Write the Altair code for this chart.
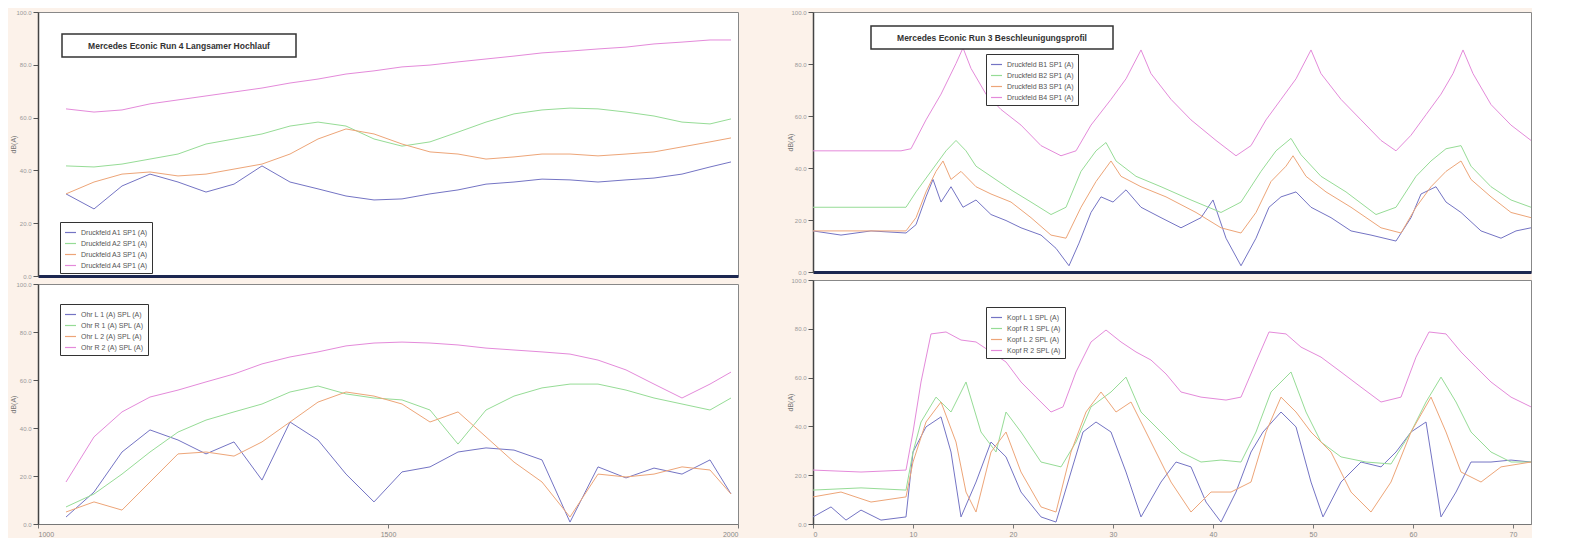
import altair as alt
import pandas as pd

# ---------------- data ----------------
RPM = [1040, 1080, 1120, 1160, 1200, 1240, 1280, 1320, 1360, 1400, 1440, 1480, 1520,
       1560, 1600, 1640, 1680, 1720, 1760, 1800, 1840, 1880, 1920, 1960, 1990]

LT_PINK = [63.3, 62.1, 62.9, 65.2, 66.7, 68.2, 69.7, 71.2, 73.1, 74.6, 76.5, 77.7, 79.2,
           79.9, 81.1, 82.2, 83.3, 84.5, 85.2, 86.0, 86.7, 87.9, 88.6, 89.4, 89.4]
LT_GREEN = [41.7, 41.3, 42.4, 44.3, 46.2, 50.0, 51.9, 53.8, 56.8, 58.3, 56.8, 51.9, 49.2,
            50.8, 54.5, 58.3, 61.4, 62.9, 63.6, 63.3, 62.1, 60.6, 58.3, 57.6, 59.5]
LT_ORANGE = [31.1, 35.6, 38.6, 39.4, 37.9, 38.6, 40.5, 42.4, 46.2, 51.9, 55.7, 53.8, 50.0,
             47.0, 46.2, 44.3, 45.1, 46.2, 46.2, 45.5, 46.2, 47.0, 48.9, 50.8, 52.3]
LT_BLUE = [31.1, 25.4, 34.1, 38.6, 35.6, 31.8, 34.8, 41.7, 35.6, 33.0, 30.3, 28.8, 29.2,
           31.1, 32.6, 34.8, 35.6, 36.7, 36.4, 35.6, 36.4, 37.1, 38.6, 41.3, 43.2]

LB_PINK = [17.5, 36.3, 46.7, 52.9, 55.8, 59.2, 62.5, 66.7, 69.6, 71.7, 74.2, 75.4, 75.8,
           75.4, 74.6, 73.3, 72.5, 71.7, 70.8, 68.3, 64.2, 58.3, 52.5, 58.3, 63.3]
LB_GREEN = [7.1, 12.5, 20.8, 30.0, 38.3, 43.3, 46.7, 50.0, 55.0, 57.5, 54.2, 52.5, 51.7,
            47.5, 33.3, 47.5, 53.3, 56.7, 58.3, 58.3, 55.8, 52.5, 50.0, 47.5, 52.5]
LB_ORANGE = [5.0, 9.2, 5.8, 17.5, 29.2, 30.0, 28.3, 34.2, 42.5, 50.8, 55.0, 53.3, 50.0,
             42.5, 46.7, 36.3, 25.8, 17.5, 2.9, 20.8, 19.6, 20.8, 23.8, 22.5, 12.5]
LB_BLUE = [2.9, 13.3, 30.0, 39.2, 35.0, 29.2, 34.2, 18.3, 42.5, 35.0, 20.8, 9.2, 21.7,
           23.8, 30.0, 31.7, 30.8, 26.7, 0.8, 23.8, 19.2, 23.3, 20.8, 26.7, 12.5]

RT_PINK = [(0, 46.6), (8.8, 46.6), (9.8, 47.4), (11.3, 58.5), (12.8, 68.4), (14.3, 80.2),
           (15.0, 86.2), (15.8, 78.3), (17.3, 68.4), (18.8, 62.5), (20.8, 56.5), (22.8, 48.6),
           (24.8, 44.7), (26.3, 46.6), (27.8, 56.5), (29.8, 66.4), (31.3, 74.3), (32.8, 85.4),
           (33.8, 76.3), (35.8, 66.4), (37.8, 58.5), (40.3, 50.6), (42.3, 44.7), (43.8, 48.6),
           (45.3, 58.5), (46.8, 66.4), (48.3, 74.3), (49.8, 85.4), (50.8, 76.3), (52.8, 66.4),
           (54.8, 58.5), (56.8, 50.6), (58.3, 46.6), (59.8, 52.6), (61.3, 60.5), (62.8, 68.4),
           (64.0, 76.3), (65.0, 85.4), (66.0, 76.3), (67.8, 64.4), (69.8, 56.5), (71.8, 50.6)]
RT_GREEN = [(0, 24.9), (9.3, 24.9), (10.3, 30.8), (11.8, 38.7), (13.3, 46.6), (14.3, 50.6),
            (15.3, 46.6), (16.3, 40.7), (17.8, 36.8), (19.8, 31.6), (21.8, 26.9), (23.8, 22.1),
            (25.3, 24.9), (26.8, 38.7), (28.3, 46.6), (29.3, 49.8), (30.3, 42.7), (32.3, 36.8),
            (34.8, 32.8), (37.8, 27.7), (40.8, 22.9), (42.8, 26.9), (44.8, 38.7), (46.3, 46.6),
            (47.8, 51.4), (48.8, 45.1), (50.8, 36.8), (53.3, 30.8), (56.3, 22.1), (58.3, 24.9),
            (60.3, 36.8), (61.8, 42.7), (63.3, 47.4), (64.8, 48.6), (65.8, 40.7), (67.8, 32.8),
            (69.8, 27.7), (71.8, 24.9)]
RT_ORANGE = [(0, 15.8), (9.3, 15.8), (10.3, 20.9), (11.3, 30.8), (12.3, 38.7), (13.0, 42.7),
             (13.8, 35.6), (14.8, 38.7), (16.3, 32.8), (17.8, 30.0), (19.8, 26.9), (21.8, 20.9),
             (23.8, 14.2), (25.3, 13.0), (26.8, 24.9), (28.3, 34.8), (29.8, 42.7), (30.8, 36.8),
             (32.8, 32.8), (35.3, 28.9), (38.3, 22.9), (40.8, 17.0), (42.8, 15.0), (44.3, 22.9),
             (45.8, 34.8), (47.3, 40.7), (48.0, 44.7), (49.3, 36.8), (51.3, 30.8), (53.8, 24.9),
             (56.8, 17.0), (58.8, 15.0), (60.3, 24.9), (61.8, 32.8), (63.3, 38.7), (64.8, 42.7),
             (65.8, 35.6), (67.8, 28.9), (69.8, 22.9), (71.8, 20.9)]
RT_BLUE = [(0, 15.8), (2.8, 14.2), (5.8, 15.8), (9.3, 15.0), (10.3, 18.2), (11.3, 28.9),
           (12.0, 35.6), (12.8, 26.9), (13.8, 32.8), (15.0, 24.9), (16.3, 27.7), (17.8, 22.1),
           (19.3, 19.8), (20.8, 17.0), (22.8, 14.2), (24.3, 9.1), (25.6, 2.4), (26.6, 11.1),
           (27.8, 22.9), (28.8, 28.9), (30.0, 26.9), (31.3, 31.6), (32.8, 24.9), (34.8, 20.9),
           (36.8, 17.0), (38.8, 20.9), (40.0, 27.7), (41.3, 13.0), (42.8, 2.4), (44.3, 13.0),
           (45.6, 24.9), (46.8, 28.9), (48.3, 30.8), (49.8, 24.9), (51.8, 20.9), (53.8, 15.8),
           (55.8, 14.2), (58.3, 11.9), (59.8, 20.9), (60.8, 30.0), (62.3, 32.8), (63.3, 26.9),
           (64.8, 22.9), (66.8, 15.8), (68.8, 13.0), (70.3, 15.8), (71.8, 17.0)]

RB_PINK = [(0, 22.1), (4.8, 21.3), (9.3, 22.1), (10.0, 37.7), (10.8, 58.2), (11.8, 77.9),
           (13.3, 78.7), (14.8, 75.4), (16.3, 74.6), (17.8, 70.5), (19.3, 66.4), (20.8, 58.2),
           (22.3, 52.0), (23.8, 45.9), (25.0, 48.0), (26.3, 62.3), (27.8, 74.6), (29.3, 79.5),
           (30.8, 74.6), (32.3, 70.5), (33.8, 67.2), (35.3, 61.5), (36.8, 54.1), (38.8, 52.0),
           (41.3, 50.8), (42.8, 52.0), (44.3, 66.4), (45.6, 78.7), (47.3, 77.9), (48.8, 72.5),
           (50.8, 68.4), (52.8, 62.3), (54.8, 56.1), (56.8, 50.0), (58.8, 52.0), (60.3, 68.4),
           (61.6, 78.7), (63.3, 77.9), (64.8, 70.5), (66.3, 64.3), (67.8, 58.2), (69.8, 52.0),
           (71.8, 48.0)]
RB_GREEN = [(0, 13.9), (4.8, 14.8), (9.3, 13.9), (10.0, 29.5), (10.8, 41.8), (12.3, 52.0),
            (13.8, 45.9), (15.3, 58.2), (16.8, 37.7), (18.3, 29.5), (19.3, 45.9), (20.8, 37.7),
            (22.8, 25.4), (24.8, 23.4), (26.3, 33.6), (27.8, 48.0), (29.8, 54.1), (31.3, 60.2),
            (32.8, 45.9), (34.8, 37.7), (36.8, 29.5), (38.8, 25.4), (40.8, 26.2), (42.8, 25.4),
            (44.3, 37.7), (45.8, 54.1), (47.8, 62.3), (49.3, 45.9), (50.8, 33.6), (52.8, 27.5),
            (55.3, 25.4), (57.8, 24.6), (59.8, 37.7), (61.3, 50.0), (62.8, 60.2), (64.3, 50.0),
            (65.8, 37.7), (67.8, 29.5), (69.8, 25.4), (71.8, 25.4)]
RB_ORANGE = [(0, 11.1), (2.8, 13.1), (5.8, 9.0), (9.3, 11.1), (10.0, 25.4), (11.3, 41.8),
             (12.8, 50.0), (14.3, 33.6), (15.3, 13.1), (16.3, 4.9), (17.8, 29.5), (19.3, 37.7),
             (20.8, 21.3), (22.8, 7.0), (24.3, 4.9), (25.8, 29.5), (27.3, 45.9), (28.8, 54.1),
             (30.3, 45.9), (31.8, 50.0), (33.8, 33.6), (35.8, 17.2), (37.8, 4.9), (39.8, 13.1),
             (41.8, 13.1), (43.8, 17.2), (45.3, 37.7), (46.8, 52.0), (48.3, 45.9), (49.8, 37.7),
             (51.8, 29.5), (53.8, 13.1), (55.8, 4.9), (57.8, 17.2), (59.8, 37.7), (61.8, 52.0),
             (63.3, 37.7), (64.8, 21.3), (66.8, 17.2), (68.8, 23.4), (71.8, 25.4)]
RB_BLUE = [(0, 2.9), (1.8, 7.0), (3.3, 1.6), (4.8, 5.7), (6.8, 1.6), (9.3, 2.9),
           (10.0, 29.5), (11.3, 39.8), (12.8, 43.9), (13.8, 29.5), (14.8, 2.9), (16.3, 17.2),
           (17.8, 33.6), (19.3, 27.5), (20.8, 13.1), (22.8, 2.9), (24.3, 0.8), (25.8, 21.3),
           (27.0, 37.7), (28.3, 41.8), (29.8, 37.7), (31.3, 21.3), (32.8, 2.9), (34.8, 17.2),
           (36.3, 25.4), (37.8, 23.4), (39.3, 9.0), (40.8, 0.8), (42.3, 13.1), (43.8, 29.5),
           (45.0, 37.7), (46.8, 45.9), (48.3, 39.8), (49.8, 17.2), (51.0, 2.9), (52.8, 17.2),
           (54.8, 25.4), (56.8, 23.4), (58.3, 29.5), (59.8, 37.7), (61.3, 41.8), (62.8, 2.9),
           (64.3, 13.1), (65.8, 25.4), (67.8, 25.4), (69.8, 26.2), (71.8, 25.4)]

TITLE_LEFT = "Mercedes Econic Run 4 Langsamer Hochlauf"
TITLE_RIGHT = "Mercedes Econic Run 3 Beschleunigungsprofil"
NAMES_LT = ["Druckfeld A1 SP1 (A)", "Druckfeld A2 SP1 (A)", "Druckfeld A3 SP1 (A)", "Druckfeld A4 SP1 (A)"]
NAMES_LB = ["Ohr L 1 (A) SPL (A)", "Ohr R 1 (A) SPL (A)", "Ohr L 2 (A) SPL (A)", "Ohr R 2 (A) SPL (A)"]
NAMES_RT = ["Druckfeld B1 SP1 (A)", "Druckfeld B2 SP1 (A)", "Druckfeld B3 SP1 (A)", "Druckfeld B4 SP1 (A)"]
NAMES_RB = ["Kopf L 1 SPL (A)", "Kopf R 1 SPL (A)", "Kopf L 2 SPL (A)", "Kopf R 2 SPL (A)"]
COLORS = ["#7474c4", "#96dc96", "#eda578", "#e48ada"]   # blue, green, orange, pink

DARK = "#1c2750"


def frame_lr(names, series):
    rows = []
    for name, vals in zip(names, series):
        for x, y in zip(RPM, vals):
            rows.append({"x": x, "y": y, "s": name})
    return pd.DataFrame(rows)


def frame_pairs(names, series):
    rows = []
    for name, pts in zip(names, series):
        for x, y in pts:
            rows.append({"x": x, "y": y, "s": name})
    return pd.DataFrame(rows)


def panel(df, names, w, h, xdom, ytext, legxy, top, xvals, title=None, titlebox=None, ext=32):
    if top:
        xaxis = alt.Axis(labels=False, ticks=False, title=None, domainColor=DARK,
                         domainWidth=3, grid=False)
    else:
        xaxis = alt.Axis(values=xvals, title=None, labelFontSize=7, labelColor="#888",
                         tickColor="#777", tickSize=4, grid=False, domainColor="#777",
                         labelFlush=True, format="d")
    yaxis = alt.Axis(title=ytext, titleFontSize=7, titleColor="#777", titleFontWeight="normal",
                     titlePadding=2, labelFontSize=6, labelColor="#999", tickColor="#555",
                     tickSize=5, tickCount=6, grid=False, domainColor="#444", domainWidth=1.5,
                     minExtent=ext - 12, maxExtent=ext - 12, format=".1f")
    lines = alt.Chart(df).mark_line(strokeWidth=1, clip=True).encode(
        x=alt.X("x:Q", scale=alt.Scale(domain=xdom, nice=False, zero=False), axis=xaxis),
        y=alt.Y("y:Q", scale=alt.Scale(domain=[0, 100], nice=False), axis=yaxis),
        color=alt.Color("s:N", scale=alt.Scale(domain=names, range=COLORS), sort=names,
                        legend=alt.Legend(title=None, orient="none", legendX=legxy[0],
                                          legendY=legxy[1], labelFontSize=7, labelColor="#555",
                                          symbolType="stroke", symbolStrokeWidth=1.2,
                                          symbolSize=120, rowPadding=1, padding=4,
                                          strokeColor="#333", fillColor="white",
                                          cornerRadius=0, labelLimit=200)),
        detail="s:N",
    )
    layers = [lines]
    if title is not None:
        x0, y0, x1, y1 = titlebox
        one = pd.DataFrame({"k": [0]})
        box = alt.Chart(one).mark_rect(fill="white", stroke="#333", strokeWidth=1.5).encode(
            x=alt.value(x0), x2=alt.value(x1), y=alt.value(y0), y2=alt.value(y1))
        txt = alt.Chart(one).mark_text(fontSize=8.5, fontWeight="bold", color="#333",
                                       font="Liberation Sans").encode(
            x=alt.value((x0 + x1) / 2), y=alt.value((y0 + y1) / 2), text=alt.value(title))
        layers += [box, txt]
    return alt.layer(*layers).properties(width=w, height=h)


lt = panel(frame_lr(NAMES_LT, [LT_BLUE, LT_GREEN, LT_ORANGE, LT_PINK]), NAMES_LT, 700, 264,
           [1000, 2000], "dB(A)", (22, 210), True, None, TITLE_LEFT, (24, 22, 258, 45), 32)
lb = panel(frame_lr(NAMES_LB, [LB_BLUE, LB_GREEN, LB_ORANGE, LB_PINK]), NAMES_LB, 700, 240,
           [1000, 2000], "dB(A)", (22, 20), False, [1000, 1500, 2000], ext=32)
rt = panel(frame_pairs(NAMES_RT, [RT_BLUE, RT_GREEN, RT_ORANGE, RT_PINK]), NAMES_RT, 718, 260,
           [0, 71.8], "dB(A)", (173, 42), True, None, TITLE_RIGHT, (58, 14, 300, 37), 30)
rb = panel(frame_pairs(NAMES_RB, [RB_BLUE, RB_GREEN, RB_ORANGE, RB_PINK]), NAMES_RB, 718, 244,
           [0, 71.8], "dB(A)", (173, 27), False, [0, 10, 20, 30, 40, 50, 60, 70], ext=30)

left = alt.vconcat(lt, lb, spacing=0).resolve_scale(color="independent").resolve_legend(color="independent")
right = alt.vconcat(rt, rb, spacing=0).resolve_scale(color="independent").resolve_legend(color="independent")

chart = alt.hconcat(left, right, spacing=46).resolve_scale(color="independent").resolve_legend(
    color="independent").properties(padding=0, background="#fcf2ea").configure_view(
    fill="white", stroke="#888", strokeWidth=1)

chart.save("out.html", embed_options={"renderer": "svg", "actions": False})
